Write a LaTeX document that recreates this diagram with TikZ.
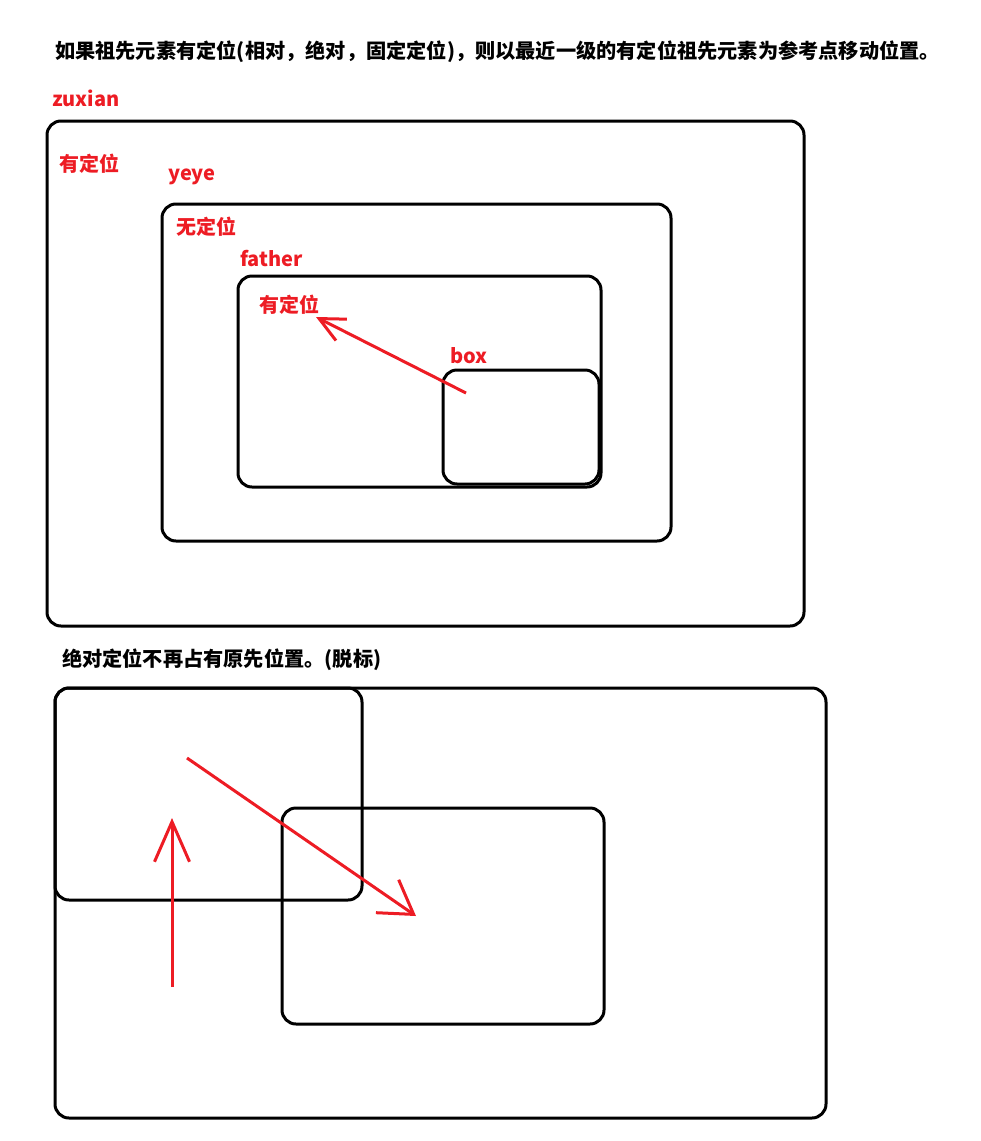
\documentclass[tikz,border=0pt]{standalone}
\usepackage{fontspec}
\setmainfont{Noto Sans CJK SC}
\usetikzlibrary{arrows.meta}
\definecolor{markred}{RGB}{237,28,36}
\tikzset{
    posbox/.style={draw=black, line width=3pt, rounded corners=14pt},
    redlabel/.style={text=markred, font=\bfseries\fontsize{20}{20}\selectfont, anchor=west, inner sep=0pt},
    headline/.style={font=\bfseries\fontsize{20.2}{21}\selectfont, anchor=west, inner sep=0pt},
    moveline/.style={draw=markred, line width=3pt}
}

\begin{document}
\begin{tikzpicture}[x=1pt, y=-1pt]
    \useasboundingbox (0,0) rectangle (981,1141);
    % upper picture
    \node[headline] (head1) at (55,52) {如果祖先元素有定位(相对，绝对，固定定位)，则以最近一级的有定位祖先元素为参考点移动位置。};
    \node[redlabel] (zuxian) at (52,98) {zuxian};
    \node[redlabel] (zuxianpos) at (59,164) {有定位};
    \node[redlabel] (yeye) at (168,177) {yeye};
    \node[redlabel] (yeyepos) at (176,227) {无定位};
    \node[redlabel] (father) at (240,259) {father};
    \node[redlabel] (fatherpos) at (259,305) {有定位};
    \node[redlabel] (box) at (450,356) {box};
    \draw[posbox] (47,121) rectangle (804,626);
    \draw[posbox] (162,204) rectangle (671,541);
    \draw[posbox] (238,276) rectangle (601,487);
    \draw[posbox] (443,370) rectangle (599,484);
    \coordinate (boxstart) at (466,393);
    \coordinate (fathertip) at (316,317);
    \draw[moveline, -{Straight Barb[length=25pt, width=24pt]}] (boxstart) -- (fathertip);
    % lower picture
    \node[headline] (head2) at (62,660) {绝对定位不再占有原先位置。(脱标)};
    \draw[posbox] (55,688) rectangle (826,1118);
    \draw[posbox] (55,688) rectangle (362,900);
    \draw[posbox] (282,808) rectangle (604,1024);
    \coordinate (upstart) at (172,987);
    \coordinate (uptip) at (172,818);
    \draw[moveline, -{Straight Barb[length=40pt, width=35pt]}] (upstart) -- (uptip);
    \coordinate (slidestart) at (187,758);
    \coordinate (slidetip) at (416,916);
    \draw[moveline, -{Straight Barb[length=32pt, width=40pt]}] (slidestart) -- (slidetip);
\end{tikzpicture}
\end{document}
